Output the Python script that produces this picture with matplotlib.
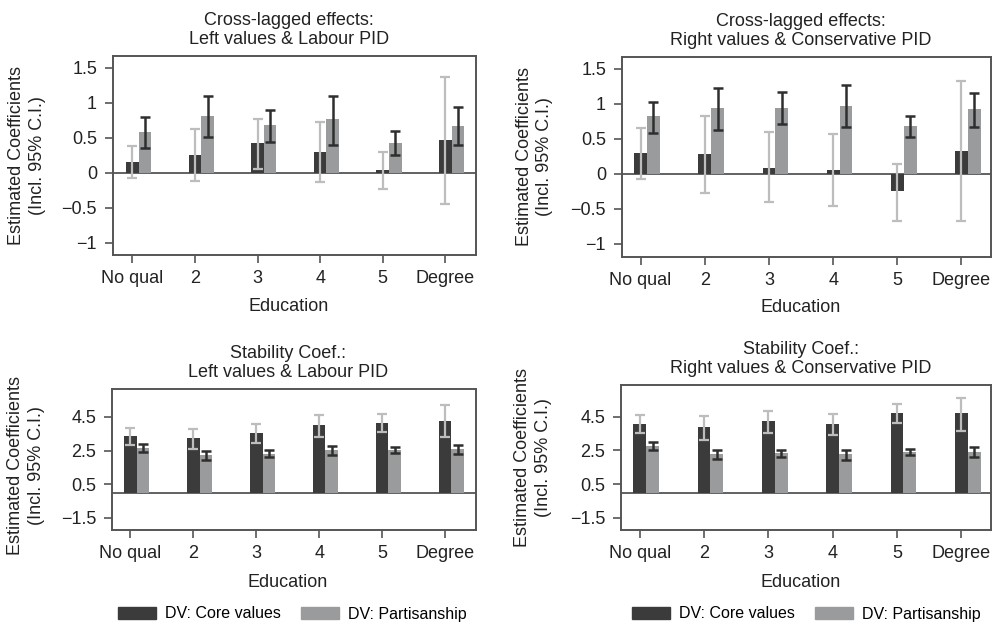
import matplotlib
matplotlib.use('Agg')
import matplotlib.pyplot as plt
import numpy as np
from matplotlib.patches import Patch

plt.rcParams['font.family'] = ['Liberation Sans', 'DejaVu Sans']

categories = ['No qual', '2', '3', '4', '5', 'Degree']

# Cross-lagged: Left values & Labour PID
tl_core = [0.157, 0.257, 0.42, 0.30, 0.04, 0.47]
tl_core_lo = [-0.08, -0.115, 0.05, -0.13, -0.23, -0.45]
tl_core_hi = [0.38, 0.62, 0.77, 0.72, 0.30, 1.37]
tl_part = [0.58, 0.81, 0.68, 0.76, 0.43, 0.66]
tl_part_lo = [0.35, 0.51, 0.44, 0.40, 0.25, 0.39]
tl_part_hi = [0.80, 1.10, 0.90, 1.09, 0.60, 0.94]

# Cross-lagged: Right values & Conservative PID
tr_core = [0.30, 0.28, 0.086, 0.05, -0.25, 0.33]
tr_core_lo = [-0.07, -0.28, -0.41, -0.46, -0.68, -0.67]
tr_core_hi = [0.65, 0.82, 0.59, 0.56, 0.14, 1.33]
tr_part = [0.82, 0.94, 0.94, 0.96, 0.68, 0.92]
tr_part_lo = [0.58, 0.62, 0.71, 0.66, 0.52, 0.66]
tr_part_hi = [1.03, 1.23, 1.16, 1.26, 0.82, 1.15]

# Stability: Left values & Labour PID
bl_core = [3.37, 3.23, 3.54, 4.00, 4.14, 4.26]
bl_core_lo = [2.83, 2.59, 2.93, 3.33, 3.58, 3.33]
bl_core_hi = [3.84, 3.78, 4.08, 4.59, 4.65, 5.21]
bl_part = [2.67, 2.22, 2.32, 2.53, 2.53, 2.57]
bl_part_lo = [2.40, 1.94, 2.10, 2.24, 2.34, 2.30]
bl_part_hi = [2.87, 2.48, 2.53, 2.79, 2.69, 2.85]

# Stability: Right values & Conservative PID
br_core = [4.08, 3.88, 4.22, 4.08, 4.71, 4.71]
br_core_lo = [3.52, 3.13, 3.52, 3.41, 4.10, 3.66]
br_core_hi = [4.59, 4.55, 4.85, 4.67, 5.23, 5.62]
br_part = [2.77, 2.30, 2.32, 2.26, 2.42, 2.42]
br_part_lo = [2.50, 1.98, 2.10, 1.94, 2.22, 2.12]
br_part_hi = [2.99, 2.53, 2.53, 2.50, 2.59, 2.71]

top_yticks = [-1, -0.5, 0, 0.5, 1, 1.5]
top_yticklabels = ['\u22121', '\u22120.5', '0', '0.5', '1', '1.5']
bot_yticks = [-1.5, 0.5, 2.5, 4.5]
bot_yticklabels = ['\u22121.5', '0.5', '2.5', '4.5']

titles = ['Cross-lagged effects:\nLeft values & Labour PID',
          'Cross-lagged effects:\nRight values & Conservative PID',
          'Stability Coef.:\nLeft values & Labour PID',
          'Stability Coef.:\nRight values & Conservative PID']

DARK = '#3b3b3b'
LIGHT = '#9a9b9d'
ERR_LIGHT = '#bdbdbd'
ERR_DARK = '#2e2e2e'
FRAME = '#555555'
TEXT = '#222222'

W, H = 995, 624
fig = plt.figure(figsize=(W / 100, H / 100), dpi=100)

def px_axes(l, r, t, b):
    return fig.add_axes([l / W, 1 - b / H, (r - l) / W, (b - t) / H])

panels = [
    dict(box=(113, 476, 56, 255), xlim=(-0.31, 5.49), ylim=(-1.176, 1.667),
         core=tl_core, clo=tl_core_lo, chi=tl_core_hi,
         part=tl_part, plo=tl_part_lo, phi=tl_part_hi,
         yt=top_yticks, ytl=top_yticklabels, xly=-0.26, yly=0.5),
    dict(box=(622, 991, 57, 257), xlim=(-0.29, 5.46), ylim=(-1.19, 1.667),
         core=tr_core, clo=tr_core_lo, chi=tr_core_hi,
         part=tr_part, plo=tr_part_lo, phi=tr_part_hi,
         yt=top_yticks, ytl=top_yticklabels, xly=-0.255, yly=0.5),
    dict(box=(112, 476, 389, 530), xlim=(-0.29, 5.49), ylim=(-2.22, 6.16),
         core=bl_core, clo=bl_core_lo, chi=bl_core_hi,
         part=bl_part, plo=bl_part_lo, phi=bl_part_hi,
         yt=bot_yticks, ytl=bot_yticklabels, xly=-0.369, yly=0.46),
    dict(box=(621, 991, 385, 530), xlim=(-0.29, 5.46), ylim=(-2.22, 6.38),
         core=br_core, clo=br_core_lo, chi=br_core_hi,
         part=br_part, plo=br_part_lo, phi=br_part_hi,
         yt=bot_yticks, ytl=bot_yticklabels, xly=-0.359, yly=0.5),
]

x = np.arange(len(categories))
bw = 0.2

for p, title in zip(panels, titles):
    ax = px_axes(*p['box'])
    core = np.array(p['core']); part = np.array(p['part'])
    ax.axhline(0, color=FRAME, lw=1.3, zorder=1)
    ax.bar(x, core, width=bw, color=DARK, zorder=2)
    ax.bar(x + bw, part, width=bw, color=LIGHT, zorder=2)
    ax.errorbar(x, core, yerr=[core - np.array(p['clo']), np.array(p['chi']) - core],
                fmt='none', ecolor=ERR_LIGHT, elinewidth=1.6, capsize=3.3, capthick=1.6, zorder=3)
    ax.errorbar(x + bw, part, yerr=[part - np.array(p['plo']), np.array(p['phi']) - part],
                fmt='none', ecolor=ERR_DARK, elinewidth=1.8, capsize=3.6, capthick=1.8, zorder=4)
    ax.set_xlim(*p['xlim'])
    ax.set_ylim(*p['ylim'])
    ax.set_xticks(x)
    ax.set_xticklabels(categories)
    ax.set_yticks(p['yt'])
    ax.set_yticklabels(p['ytl'])
    ax.tick_params(axis='both', direction='out', length=5.5, width=1.2, color=FRAME,
                   labelsize=13, labelcolor=TEXT)
    ax.tick_params(axis='x', pad=5.5)
    ax.tick_params(axis='y', pad=6)
    for s in ax.spines.values():
        s.set_color(FRAME)
        s.set_linewidth(1.4)
    xc = (2.5 - p['xlim'][0]) / (p['xlim'][1] - p['xlim'][0])
    ax.set_title(title, fontsize=13, color=TEXT, x=xc, pad=8.5)
    ax.set_xlabel('Education', fontsize=13, color=TEXT, va='center')
    ax.xaxis.set_label_coords(xc, p['xly'])
    ax.set_ylabel('Estimated Coefficients\n(Incl. 95% C.I.)', fontsize=13, color=TEXT,
                  va='center', linespacing=1.3)
    ax.yaxis.set_label_coords(-0.237, p['yly'])

handles = [Patch(color=DARK, label='DV: Core values'),
           Patch(color=LIGHT, label='DV: Partisanship')]
for cx in (292, 806):
    fig.legend(handles=handles, loc='center', bbox_to_anchor=(cx / W, 1 - 614 / H),
               ncol=2, frameon=False, fontsize=11.5, handlelength=2.4, handleheight=0.75,
               handletextpad=0.55, columnspacing=1.25, borderaxespad=0, borderpad=0)

fig.savefig('out.png', dpi=100, facecolor='white')
